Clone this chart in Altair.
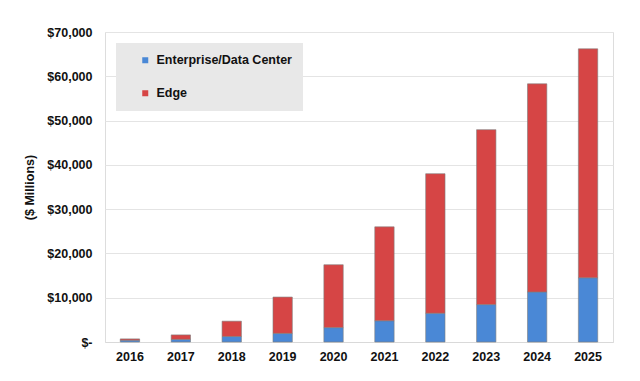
import altair as alt
import pandas as pd

years = ["2016", "2017", "2018", "2019", "2020", "2021", "2022", "2023", "2024", "2025"]
enterprise = [400, 600, 1250, 1950, 3250, 4800, 6500, 8450, 11300, 14500]
edge = [300, 1000, 3450, 8200, 14200, 21200, 31500, 39500, 47000, 51700]
series = ["Enterprise/Data Center", "Edge"]
colors = ["#4a88d6", "#d64545"]

rows = []
for i, y in enumerate(years):
    rows.append({"year": y, "series": series[0], "value": enterprise[i], "ord": 0})
    rows.append({"year": y, "series": series[1], "value": edge[i], "ord": 1})
df = pd.DataFrame(rows)

FONT = "Liberation Sans"

chart = alt.Chart(df).mark_bar(stroke="#7d7d7d", strokeWidth=0.6).encode(
    x=alt.X("year:N", sort=years,
            scale=alt.Scale(paddingInner=0.62, paddingOuter=0.3),
            axis=alt.Axis(title=None, labelAngle=0, labelPadding=8, ticks=False,
                          labelFont=FONT, labelFontSize=12.5, labelFontWeight="bold",
                          labelColor="#111", domainColor="#d9d9d9")),
    y=alt.Y("value:Q", stack="zero",
            scale=alt.Scale(domain=[0, 70000], nice=False),
            axis=alt.Axis(title="($ Millions)", values=[0, 10000, 20000, 30000, 40000, 50000, 60000, 70000],
                          labelExpr="datum.value == 0 ? '$-' : '$' + format(datum.value, ',')",
                          ticks=False, domain=False, labelPadding=13,
                          labelFont=FONT, labelFontSize=12.5, labelFontWeight="bold", labelColor="#111",
                          titleFont=FONT, titleFontSize=12.5, titleFontWeight="bold", titleColor="#111",
                          titlePadding=10, gridColor="#e4e4e4")),
    color=alt.Color("series:N", scale=alt.Scale(domain=series, range=colors),
                    legend=alt.Legend(title=None, orient="none", legendX=11, legendY=11,
                                      fillColor="#e8e8e8", padding=11, rowPadding=20,
                                      symbolType="square", symbolSize=36, symbolStrokeWidth=0,
                                      symbolOffset=12, labelOffset=5,
                                      labelFont=FONT, labelFontSize=12.5, labelFontWeight="bold",
                                      labelColor="#111", labelLimit=300)),
    order=alt.Order("ord:Q", sort="ascending"),
).properties(
    width=508, height=310,
    autosize=alt.AutoSizeParams(type="none"),
    padding={"left": 97, "top": 24, "right": 19, "bottom": 31},
).configure_view(stroke="#e4e4e4").configure(background="white")

chart.save("out.html", embed_options={"renderer": "svg", "actions": False})
